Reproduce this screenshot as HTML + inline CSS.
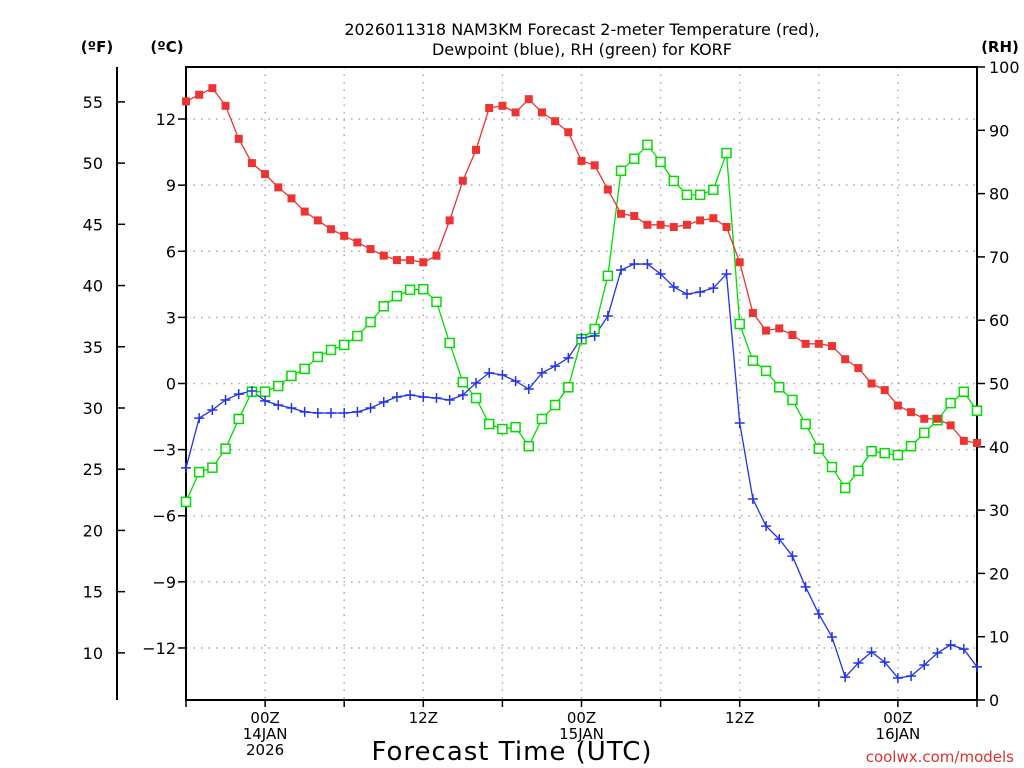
<!DOCTYPE html>
<html><head><meta charset="utf-8"><style>
body{margin:0;background:#fff;}
svg{display:block;font-family:"DejaVu Sans","Liberation Sans",sans-serif;}
</style></head><body>
<svg id="chart" width="1024" height="768" viewBox="0 0 1024 768" xmlns="http://www.w3.org/2000/svg">
<text x="582" y="35" font-size="16" text-anchor="middle">2026011318 NAM3KM Forecast 2-meter Temperature (red),</text>
<text x="582" y="55" font-size="16" text-anchor="middle">Dewpoint (blue), RH (green) for KORF</text>
<text x="97" y="52" font-size="15" font-weight="bold" text-anchor="middle">(ºF)</text>
<text x="167" y="52" font-size="15" font-weight="bold" text-anchor="middle">(ºC)</text>
<text x="1000" y="52" font-size="15" font-weight="bold" text-anchor="middle">(RH)</text>
<text x="512" y="760" font-size="26" text-anchor="middle" letter-spacing="1">Forecast Time (UTC)</text>
<text x="1014" y="762" font-size="15" fill="#e03030" text-anchor="end">coolwx.com/models</text>
<g id="grid"></g><g id="axes"></g><g id="series"></g>
</svg>
<script>
const hours=[];for(let h=0;h<=60;h++)hours.push(h);
const tempC=[12.8,13.1,13.4,12.6,11.1,10.0,9.5,8.9,8.4,7.8,7.4,7.0,6.7,6.4,6.1,5.8,5.6,5.6,5.5,5.8,7.4,9.2,10.6,12.5,12.6,12.3,12.9,12.3,11.9,11.4,10.1,9.9,8.8,7.7,7.6,7.2,7.2,7.1,7.2,7.4,7.5,7.1,5.5,3.2,2.4,2.5,2.2,1.8,1.8,1.7,1.1,0.7,0.0,-0.3,-1.0,-1.3,-1.6,-1.6,-1.9,-2.6,-2.7];
const dewC=[-3.83,-1.57,-1.2,-0.75,-0.48,-0.34,-0.79,-0.98,-1.11,-1.29,-1.34,-1.34,-1.34,-1.29,-1.11,-0.84,-0.61,-0.52,-0.61,-0.66,-0.75,-0.52,0.02,0.48,0.39,0.11,-0.25,0.48,0.79,1.16,2.07,2.16,3.06,5.15,5.42,5.42,4.97,4.38,4.06,4.15,4.33,4.97,-1.79,-5.24,-6.47,-7.06,-7.83,-9.23,-10.46,-11.5,-13.32,-12.68,-12.18,-12.64,-13.36,-13.27,-12.77,-12.23,-11.86,-12.05,-12.86];
const rh=[31.3,36,36.7,39.7,44.4,48.7,48.7,49.6,51.2,52.3,54.2,55.3,56.1,57.5,59.7,62.2,63.8,64.8,64.9,62.9,56.4,50.2,47.7,43.6,42.8,43.1,40.1,44.4,46.6,49.4,57.0,58.6,67,83.6,85.5,87.7,85,82,79.8,79.8,80.6,86.4,59.4,53.6,52,49.4,47.4,43.6,39.7,36.8,33.5,36.2,39.3,39,38.7,40.1,42.2,44.2,46.9,48.7,45.7];
const cTicks=[12,9,6,3,0,-3,-6,-9,-12];
const fTicks=[55,50,45,40,35,30,25,20,15,10];
const rhTicks=[0,10,20,30,40,50,60,70,80,90,100];
const timeTickHours=[6,18,30,42,54];
const timeTickLabels=[["00Z","14JAN","2026"],["12Z"],["00Z","15JAN"],["12Z"],["00Z","16JAN"]];
const X0=186,X1=977,Y0=67,Y1=700;
const xS=h=>X0+(X1-X0)*h/60;
const yC=c=>383.5-c*22.04;
const yF=f=>yC((f-32)/1.8);
const yR=r=>Y1-(Y1-Y0)*r/100;
const NS="http://www.w3.org/2000/svg";
function mk(parent,tag,attrs){const e=document.createElementNS(NS,tag);for(const k in attrs)e.setAttribute(k,attrs[k]);document.getElementById(parent).appendChild(e);return e;}
// grid
for(let h=6;h<60;h+=6){const g=mk('grid','line',{x1:xS(h),x2:xS(h),y1:Y0,y2:Y1,stroke:'#aaa','stroke-width':1.5,'stroke-dasharray':'1.5 6'});

}
cTicks.forEach(c=>{const g=mk('grid','line',{x1:X0,x2:X1,y1:yC(c),y2:yC(c),stroke:'#aaa','stroke-width':1.5,'stroke-dasharray':'1.5 6'});

});
// axes
const fr=mk('axes','rect',{x:X0,y:Y0,width:X1-X0,height:Y1-Y0,fill:'none',stroke:'#000','stroke-width':2});


const fl=mk('axes','line',{x1:117,x2:117,y1:Y0,y2:Y1,stroke:'#000','stroke-width':2});


cTicks.forEach(c=>{mk('axes','line',{x1:X0-8,x2:X0,y1:yC(c),y2:yC(c),stroke:'#000','stroke-width':1.5});
const t=mk('axes','text',{x:X0-10,y:yC(c)+6,'font-size':16,'text-anchor':'end'});t.textContent=(c<0?'−':'')+Math.abs(c);

});
fTicks.forEach(f=>{mk('axes','line',{x1:117,x2:125,y1:yF(f),y2:yF(f),stroke:'#000','stroke-width':1.5});
const t=mk('axes','text',{x:103,y:yF(f)+6,'font-size':16,'text-anchor':'end'});t.textContent=f;

});
rhTicks.forEach(r=>{mk('axes','line',{x1:X1,x2:X1+8,y1:yR(r),y2:yR(r),stroke:'#000','stroke-width':1.5});
const t=mk('axes','text',{x:X1+12,y:yR(r)+6,'font-size':16});t.textContent=r;

});
for(let h=0;h<=60;h+=6){mk('axes','line',{x1:xS(h),x2:xS(h),y1:Y1,y2:Y1+7,stroke:'#000','stroke-width':1.5});}
timeTickHours.forEach((h,i)=>{timeTickLabels[i].forEach((s,j)=>{const t=mk('axes','text',{x:xS(h),y:Y1+23+j*16,'font-size':15,'text-anchor':'middle'});t.textContent=s;

});});
// series
function line(vals,yf,color,name){const p=mk('series','polyline',{points:vals.map((v,i)=>xS(hours[i])+','+yf(v)).join(' '),fill:'none',stroke:color,'stroke-width':1.3});

}
line(rh,yR,'#00dd00','rh-line');
line(tempC,yC,'#ee3333','temperature-line');
line(dewC,yC,'#2233ee','dewpoint-line');
rh.forEach((v,i)=>{const m=mk('series','rect',{x:xS(hours[i])-4.5,y:yR(v)-4.5,width:9,height:9,fill:'#fff',stroke:'#00dd00','stroke-width':1.5});

});
tempC.forEach((v,i)=>{const m=mk('series','rect',{x:xS(hours[i])-4,y:yC(v)-4,width:8,height:8,fill:'#ee3333'});

});
dewC.forEach((v,i)=>{const x=xS(hours[i]),y=yC(v);const m=mk('series','path',{d:`M${x-5},${y}H${x+5}M${x},${y-5}V${y+5}`,stroke:'#2233ee','stroke-width':1.5});

});
</script>
</body></html>
